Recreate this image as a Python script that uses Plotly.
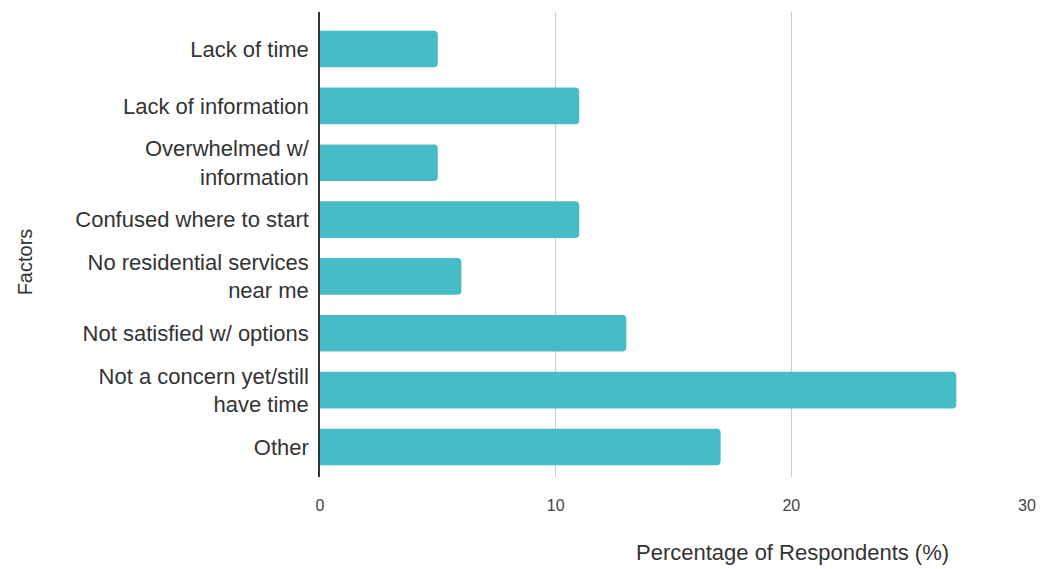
import plotly.graph_objects as go

categories = [
    "Lack of time",
    "Lack of information",
    "Overwhelmed w/<br>information",
    "Confused where to start",
    "No residential services<br>near me",
    "Not satisfied w/ options",
    "Not a concern yet/still<br>have time",
    "Other",
]
values = [5, 11, 5, 11, 6, 13, 27, 17]
x_ticks = [0, 10, 20, 30]
x_title = "Percentage of Respondents (%)"
y_title = "Factors"

FONT = "Arial, Liberation Sans, sans-serif"
TEXT = "#333333"

fig = go.Figure(go.Bar(
    x=values, y=categories, orientation="h",
    marker=dict(color="#46BDC6", cornerradius=4, line=dict(width=0)),
))

fig.update_layout(
    width=1041, height=561,
    margin=dict(l=312, r=22, t=4, b=92),
    plot_bgcolor="white", paper_bgcolor="white",
    bargap=0.355,
    font=dict(family=FONT, color=TEXT),
    showlegend=False,
    annotations=[
        dict(text=x_title, xref="paper", yref="paper", x=0.668, y=-0.163,
             xanchor="center", yanchor="middle", showarrow=False,
             font=dict(size=22, color=TEXT, family=FONT)),
        dict(text=y_title, xref="paper", yref="paper", x=-0.417, y=0.462,
             xanchor="center", yanchor="middle", showarrow=False, textangle=-90,
             font=dict(size=20, color=TEXT, family=FONT)),
    ],
)
fig.update_xaxes(
    range=[0, 30], tickvals=x_ticks, showgrid=True, gridcolor="#cccccc", gridwidth=1,
    zeroline=False, showline=False, automargin=False,
    tickfont=dict(size=16, color="#444444"),
    ticks="outside", ticklen=14, tickcolor="rgba(0,0,0,0)",
)
fig.update_yaxes(
    type="category", range=[7.528, -0.651], automargin=False,
    showline=True, linecolor="#333333", linewidth=1.5,
    showgrid=False,
    tickfont=dict(size=22, color=TEXT),
    ticks="outside", ticklen=5, tickcolor="rgba(0,0,0,0)",
)

fig.write_html("out.html")
